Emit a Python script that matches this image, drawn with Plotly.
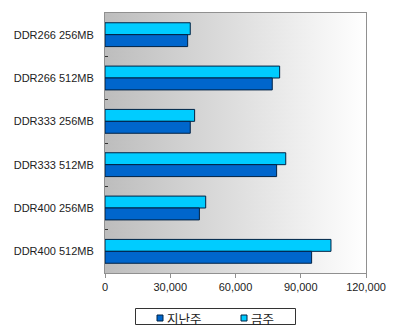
import base64
import plotly.graph_objects as go

categories = ["DDR266 256MB", "DDR266 512MB", "DDR333 256MB",
              "DDR333 512MB", "DDR400 256MB", "DDR400 512MB"]
last_week = [38000, 76900, 39200, 78900, 43400, 95000]   # 지난주
this_week = [39200, 80300, 41200, 83100, 46300, 103900]  # 금주
series_names = ["지난주", "금주"]
series_colors = ["#0066cc", "#00ccff"]
x_ticks = [0, 30000, 60000, 90000, 120000]
x_tick_labels = ["0", "30,000", "60,000", "90,000", "120,000"]

W, H = 400, 333
ML, MR, MT, MB = 105, 34, 13, 60
PW, PH = W - ML - MR, H - MT - MB


def px_x(px):
    return (px - ML) / PW


def px_y(py):
    return (H - MB - py) / PH


svg = ('<svg xmlns="http://www.w3.org/2000/svg" width="100" height="100" '
       'preserveAspectRatio="none" viewBox="0 0 100 100">'
       '<defs><linearGradient id="g" x1="0" y1="0" x2="1" y2="0">'
       '<stop offset="0" stop-color="#bdbdbd"/>'
       '<stop offset="1" stop-color="#ffffff"/>'
       '</linearGradient></defs>'
       '<rect width="100" height="100" fill="url(#g)"/></svg>')
svg_uri = "data:image/svg+xml;base64," + base64.b64encode(svg.encode()).decode()

font_family = "Liberation Sans, Arial, Noto Sans CJK KR, sans-serif"
outline = "#002244"

fig = go.Figure()
fig.add_trace(go.Bar(
    y=categories, x=this_week, orientation="h", name=series_names[1],
    marker=dict(color=series_colors[1], line=dict(color=outline, width=1)),
))
fig.add_trace(go.Bar(
    y=categories, x=last_week, orientation="h", name=series_names[0],
    marker=dict(color=series_colors[0], line=dict(color=outline, width=1)),
))

# manual legend (box, small squares, labels)
shapes = [dict(type="rect", xref="paper", yref="paper",
               x0=px_x(135.5), x1=px_x(295.5), y0=px_y(308.5), y1=px_y(324.5),
               line=dict(color="#333333", width=1), fillcolor="white",
               layer="above")]
annotations = []
for name, color, sx in zip(series_names, series_colors, [157, 241]):
    shapes.append(dict(type="rect", xref="paper", yref="paper",
                       x0=px_x(sx), x1=px_x(sx + 6), y0=px_y(315), y1=px_y(321),
                       line=dict(color=outline, width=1), fillcolor=color,
                       layer="above"))
    annotations.append(dict(text=name, xref="paper", yref="paper",
                            x=px_x(sx + 7.5), y=px_y(318.5),
                            xanchor="left", yanchor="middle", showarrow=False,
                            font=dict(size=12.5, color="#222222",
                                      family="Noto Sans CJK KR, sans-serif")))

fig.update_layout(
    width=W, height=H,
    margin=dict(l=ML, r=MR, t=MT, b=MB),
    barmode="group",
    bargap=0.45,
    bargroupgap=0,
    showlegend=False,
    paper_bgcolor="white",
    plot_bgcolor="rgba(0,0,0,0)",
    font=dict(family=font_family, size=11, color="#222222"),
    images=[dict(source=svg_uri, xref="paper", yref="paper", x=0, y=1,
                 sizex=1, sizey=1, sizing="stretch", layer="below",
                 xanchor="left", yanchor="top")],
    shapes=shapes,
    annotations=annotations,
    xaxis=dict(
        range=[0, 120000], tickvals=x_ticks, ticktext=x_tick_labels,
        showgrid=False, zeroline=False, showline=True, linecolor="#909090",
        linewidth=1, mirror=True, ticks="outside", ticklen=4,
        tickcolor="#909090", fixedrange=True, automargin=False,
    ),
    yaxis=dict(
        autorange="reversed", showgrid=False, zeroline=False, showline=True,
        linecolor="#909090", linewidth=1, mirror=True,
        ticks="inside", ticklen=3, tickcolor="#333333",
        tickson="boundaries", ticklabelstandoff=8, automargin=False,
    ),
)

fig.write_html("out.html")
